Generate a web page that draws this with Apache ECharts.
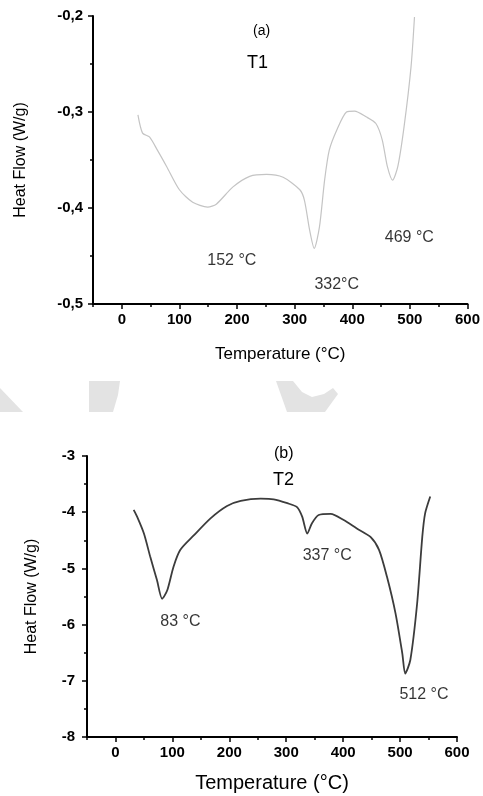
<!DOCTYPE html>
<html>
<head>
<meta charset="utf-8">
<script src="https://cdn.jsdelivr.net/npm/echarts@6/dist/echarts.min.js"></script>
<style>
  html, body { margin: 0; padding: 0; background: #fff; }
  #main { width: 483px; height: 796px; }
</style>
</head>
<body>
<div id="main"></div>
<script>
// (a) T1 curve
var temp1 = [28, 36, 48, 62, 78, 100, 123, 149, 164, 193, 222, 251, 280, 309, 317, 326, 334, 343, 352, 360, 373, 390, 404, 424, 441, 452, 461, 470, 479, 490, 502, 508];
var flow1 = [-0.303, -0.322, -0.326, -0.340, -0.357, -0.381, -0.394, -0.399, -0.396, -0.378, -0.367, -0.365, -0.368, -0.381, -0.392, -0.423, -0.442, -0.420, -0.371, -0.340, -0.319, -0.300, -0.299, -0.305, -0.312, -0.329, -0.357, -0.371, -0.357, -0.315, -0.253, -0.201];
// (b) T2 curve
var temp2 = [32, 38, 50, 61, 73, 82, 91, 102, 114, 138, 167, 196, 220, 255, 278, 302, 319, 328, 337, 345, 357, 378, 401, 424, 448, 463, 477, 492, 504, 509, 518, 530, 539, 544, 553];
var flow2 = [-3.96, -4.08, -4.38, -4.79, -5.21, -5.54, -5.39, -4.97, -4.67, -4.41, -4.11, -3.89, -3.80, -3.76, -3.77, -3.84, -3.91, -4.08, -4.38, -4.20, -4.05, -4.03, -4.14, -4.29, -4.44, -4.67, -5.15, -5.80, -6.52, -6.87, -6.63, -5.62, -4.44, -4.02, -3.72];

// peak labels: [temperature, heat flow, text]
var peaks1 = [[191, -0.455, '152 °C'], [373, -0.480, '332°C'], [499, -0.431, '469 °C']];
var peaks2 = [[114, -5.95, '83 °C'], [372, -4.78, '337 °C'], [542, -7.25, '512 °C']];

var majorTicks = [0, 100, 200, 300, 400, 500, 600];

var font = 'Liberation Sans, Arial, sans-serif';

function pairs(xs, ys) {
  return xs.map(function (x, i) { return [x, ys[i]]; });
}

function xMain(grid, nameSize, nameGap) {
  return {
    type: 'value', gridIndex: grid, position: 'bottom', min: -50, max: 600, interval: 50,
    name: 'Temperature (°C)', nameLocation: 'middle', nameGap: nameGap,
    nameTextStyle: { fontFamily: font, fontSize: nameSize, color: '#000' },
    splitLine: { show: false },
    axisLine: { onZero: false, lineStyle: { color: '#000', width: 2 } },
    axisTick: { length: 3, lineStyle: { color: '#000', width: 1.5 } },
    axisLabel: {
      margin: 8, fontFamily: font, fontSize: 15, fontWeight: 600, color: '#000',
      formatter: function (v) { return v % 100 === 0 ? String(v) : ''; }
    }
  };
}

function xMajor(grid) {
  return {
    type: 'value', gridIndex: grid, position: 'bottom', min: -50, max: 600, interval: 50,
    splitLine: { show: false },
    axisLine: { show: false, onZero: false },
    axisLabel: { show: false },
    axisTick: { length: 5, customValues: majorTicks, lineStyle: { color: '#000', width: 1.5 } }
  };
}

function yAxis(grid, min, max, interval, margin, nameGap, fmt) {
  return {
    type: 'value', gridIndex: grid, min: min, max: max, interval: interval,
    name: 'Heat Flow (W/g)', nameLocation: 'middle', nameGap: nameGap,
    nameTextStyle: { fontFamily: font, fontSize: 16, color: '#000' },
    splitLine: { show: false },
    axisLine: { onZero: false, lineStyle: { color: '#000', width: 2 } },
    axisTick: { length: 5, lineStyle: { color: '#000', width: 1.5 } },
    minorTick: { show: true, splitNumber: 2, length: 3, lineStyle: { color: '#000', width: 1.5 } },
    axisLabel: { margin: margin, fontFamily: font, fontSize: 15, fontWeight: 600, color: '#000', formatter: fmt }
  };
}

function peakSeries(xi, yi, peaks, size) {
  return {
    type: 'scatter', xAxisIndex: xi, yAxisIndex: yi, symbolSize: 0, silent: true,
    data: peaks.map(function (p) { return { value: [p[0], p[1]], name: p[2] }; }),
    label: {
      show: true, position: 'inside', formatter: '{b}',
      fontFamily: font, fontSize: size, color: '#000'
    }
  };
}

function titleText(text, left, top, size) {
  return { text: text, left: left, top: top, padding: 0,
    textStyle: { fontFamily: font, fontSize: size, fontWeight: 'normal', color: '#000' } };
}

var chart = echarts.init(document.getElementById('main'), null, { renderer: 'canvas' });

var option = {
  backgroundColor: '#fff',
  animation: false,
  title: [
    titleText('(a)', 253, 24, 14),
    titleText('T1', 247, 54, 18),
    titleText('(b)', 274, 446, 16),
    titleText('T2', 273, 471, 18)
  ],
  graphic: [
    { type: 'polygon', shape: { points: [[0, 388], [23, 412], [0, 412]] }, style: { fill: '#e3e3e3' }, silent: true },
    { type: 'polygon', shape: { points: [[89, 381], [120, 381], [118, 395], [113, 412], [89, 412]] }, style: { fill: '#e3e3e3' }, silent: true },
    { type: 'polygon', shape: { points: [[276, 381], [293, 381], [302, 392], [312, 397], [324, 394], [333, 388], [338, 394], [325, 412], [287, 412]] }, style: { fill: '#e3e3e3' }, silent: true }
  ],
  grid: [
    { left: 93, right: 15, top: 16, height: 288 },
    { left: 87, right: 26, top: 456, height: 281 }
  ],
  xAxis: [
    xMain(0, 17, 42),
    xMajor(0),
    xMain(1, 20, 36),
    xMajor(1)
  ],
  yAxis: [
    yAxis(0, -0.5, -0.2, 0.1, 10, 64, function (v) { return v.toFixed(1).replace('.', ','); }),
    yAxis(1, -8, -3, 1, 12, 47, function (v) { return String(Math.round(v)); })
  ],
  series: [
    {
      type: 'line', xAxisIndex: 0, yAxisIndex: 0, smooth: 0.25, symbol: 'none',
      lineStyle: { color: '#c4c4c4', width: 1.2 },
      data: pairs(temp1, flow1)
    },
    {
      type: 'line', xAxisIndex: 2, yAxisIndex: 1, smooth: 0.25, symbol: 'none',
      lineStyle: { color: '#3c3c3c', width: 1.8 },
      data: pairs(temp2, flow2)
    },
    peakSeries(0, 0, peaks1, 16),
    peakSeries(2, 1, peaks2, 16)
  ]
};

chart.setOption(option);
window.addEventListener('resize', chart.resize);
</script>
</body>
</html>
